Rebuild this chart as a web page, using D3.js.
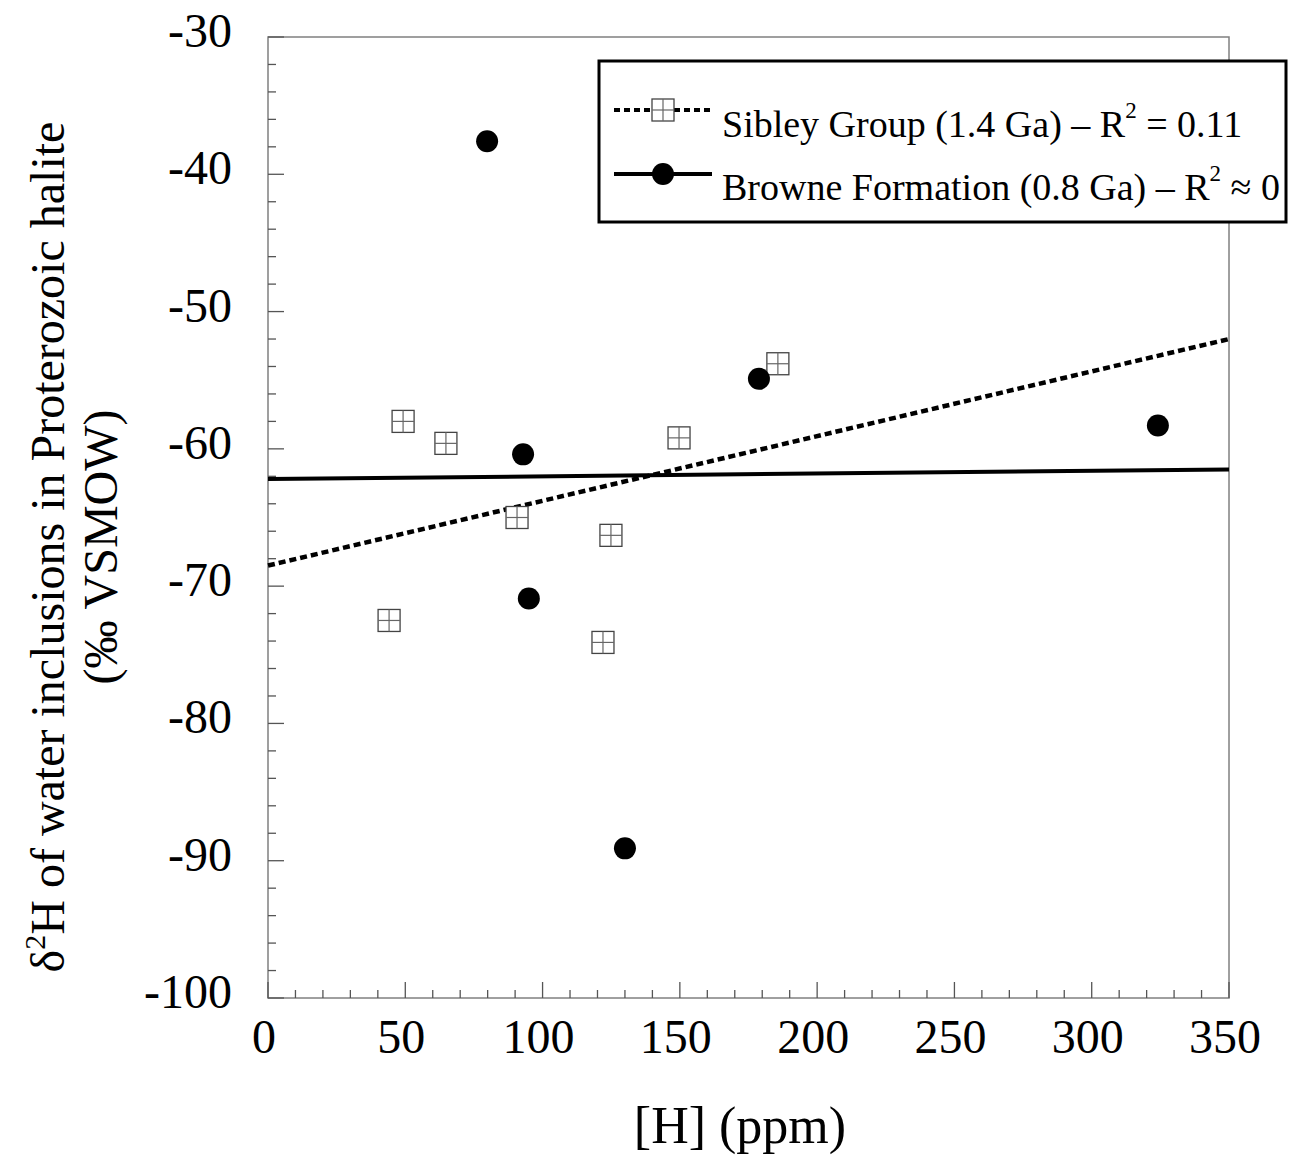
<!DOCTYPE html>
<html><head><meta charset="utf-8">
<script src="https://cdn.jsdelivr.net/npm/d3@7"></script>
<style>body{margin:0;background:#fff}svg{display:block}text{font-family:"Liberation Serif","Times New Roman",serif;fill:#000}</style>
</head><body>
<svg id="c" width="1290" height="1160"></svg>
<script>
const sibleyX = [49.2, 64.8, 90.7, 124.9, 122.0, 44.1, 149.7, 185.7];
const sibleyY = [-58.0, -59.6, -65.0, -66.3, -74.1, -72.5, -59.2, -53.8];
const browneX = [79.8, 92.9, 95.0, 130.0, 178.8, 324.1];
const browneY = [-37.6, -60.4, -70.9, -89.1, -54.9, -58.3];
const sibleyFit = [[0, -68.5], [350, -52.0]];
const browneFit = [[0, -62.2], [350, -61.5]];
const xTicks = [0, 50, 100, 150, 200, 250, 300, 350];
const yTicks = [-30, -40, -50, -60, -70, -80, -90, -100];
const legendLabels = ["Sibley Group (1.4 Ga) – R", "Browne Formation (0.8 Ga) – R"];
const legendTails = [" = 0.11", " ≈ 0"];

const svg = d3.select("#c");
const L = 268, R = 1229, T = 37, B = 998;
const x = d3.scaleLinear().domain([0, 350]).range([L, R]);
const y = d3.scaleLinear().domain([-100, -30]).range([B, T]);
const frame = "#808080";

// frame
svg.append("rect").attr("x", L).attr("y", T).attr("width", R - L).attr("height", B - T)
  .attr("fill", "none").attr("stroke", frame).attr("stroke-width", 1.5);

// ticks (inward)
const xMinor = d3.range(0, 351, 10);
svg.append("g").selectAll("line").data(xMinor).join("line")
  .attr("x1", d => x(d)).attr("x2", d => x(d))
  .attr("y1", B).attr("y2", d => B - (d % 50 === 0 ? 16 : 8))
  .attr("stroke", "#555").attr("stroke-width", 1.3);
const yMinor = d3.range(-100, -29, 2);
svg.append("g").selectAll("line").data(yMinor).join("line")
  .attr("y1", d => y(d)).attr("y2", d => y(d))
  .attr("x1", L).attr("x2", d => L + (d % 10 === 0 ? 16 : 8))
  .attr("stroke", "#555").attr("stroke-width", 1.3);

svg.append("g").selectAll("text").data(xTicks).join("text")
  .attr("x", d => x(d) - 4).attr("y", 1053).attr("text-anchor", "middle")
  .attr("font-size", 48).text(d => d);
svg.append("g").selectAll("text").data(yTicks).join("text")
  .attr("x", 232).attr("y", d => y(d) + 10).attr("text-anchor", "end")
  .attr("font-size", 48).text(d => d);

// titles
svg.append("text").attr("x", 740).attr("y", 1143).attr("text-anchor", "middle")
  .attr("font-size", 52).text("[H] (ppm)");
const yt = svg.append("text").attr("transform", "translate(64,547) rotate(-90)")
  .attr("text-anchor", "middle").attr("font-size", 48);
yt.append("tspan").text("δ");
yt.append("tspan").attr("font-size", 30).attr("dy", -19).text("2");
yt.append("tspan").attr("dy", 19).text("H of water inclusions in Proterozoic halite");
svg.append("text").attr("transform", "translate(117,547) rotate(-90)")
  .attr("text-anchor", "middle").attr("font-size", 48).text("(‰ VSMOW)");

// fit lines
const line = d3.line().x(d => x(d[0])).y(d => y(d[1]));
svg.append("path").attr("d", line(browneFit)).attr("stroke", "#000").attr("stroke-width", 4).attr("fill", "none");
svg.append("path").attr("d", line(sibleyFit)).attr("stroke", "#000").attr("stroke-width", 4.5)
  .attr("stroke-dasharray", "7,4").attr("fill", "none");

// markers
function square(g, cx, cy, s) {
  const h = s / 2;
  g.append("rect").attr("x", cx - h).attr("y", cy - h).attr("width", s).attr("height", s)
    .attr("fill", "#fff").attr("stroke", "#444").attr("stroke-width", 1.3);
  g.append("line").attr("x1", cx).attr("x2", cx).attr("y1", cy - h).attr("y2", cy + h).attr("stroke", "#666").attr("stroke-width", 1.2);
  g.append("line").attr("y1", cy).attr("y2", cy).attr("x1", cx - h).attr("x2", cx + h).attr("stroke", "#666").attr("stroke-width", 1.2);
}
const gs = svg.append("g");
sibleyX.forEach((v, i) => square(gs, x(v), y(sibleyY[i]), 22));
svg.append("g").selectAll("circle").data(browneX).join("circle")
  .attr("cx", d => x(d)).attr("cy", (d, i) => y(browneY[i])).attr("r", 11).attr("fill", "#000");

// legend
svg.append("rect").attr("x", 599).attr("y", 61).attr("width", 687).attr("height", 161)
  .attr("fill", "#fff").attr("stroke", "#000").attr("stroke-width", 3);
svg.append("line").attr("x1", 614).attr("x2", 710).attr("y1", 110).attr("y2", 110)
  .attr("stroke", "#000").attr("stroke-width", 4).attr("stroke-dasharray", "6,4");
square(svg, 663, 110, 22);
svg.append("line").attr("x1", 614).attr("x2", 712).attr("y1", 174).attr("y2", 174)
  .attr("stroke", "#000").attr("stroke-width", 4);
svg.append("circle").attr("cx", 663).attr("cy", 174).attr("r", 11).attr("fill", "#000");
[137, 200].forEach((by, i) => {
  const t = svg.append("text").attr("x", 722).attr("y", by).attr("font-size", 38);
  t.append("tspan").text(legendLabels[i]);
  t.append("tspan").attr("font-size", 23).attr("dy", -19).text("2");
  t.append("tspan").attr("dy", 19).text(legendTails[i]);
});
</script>
</body></html>
